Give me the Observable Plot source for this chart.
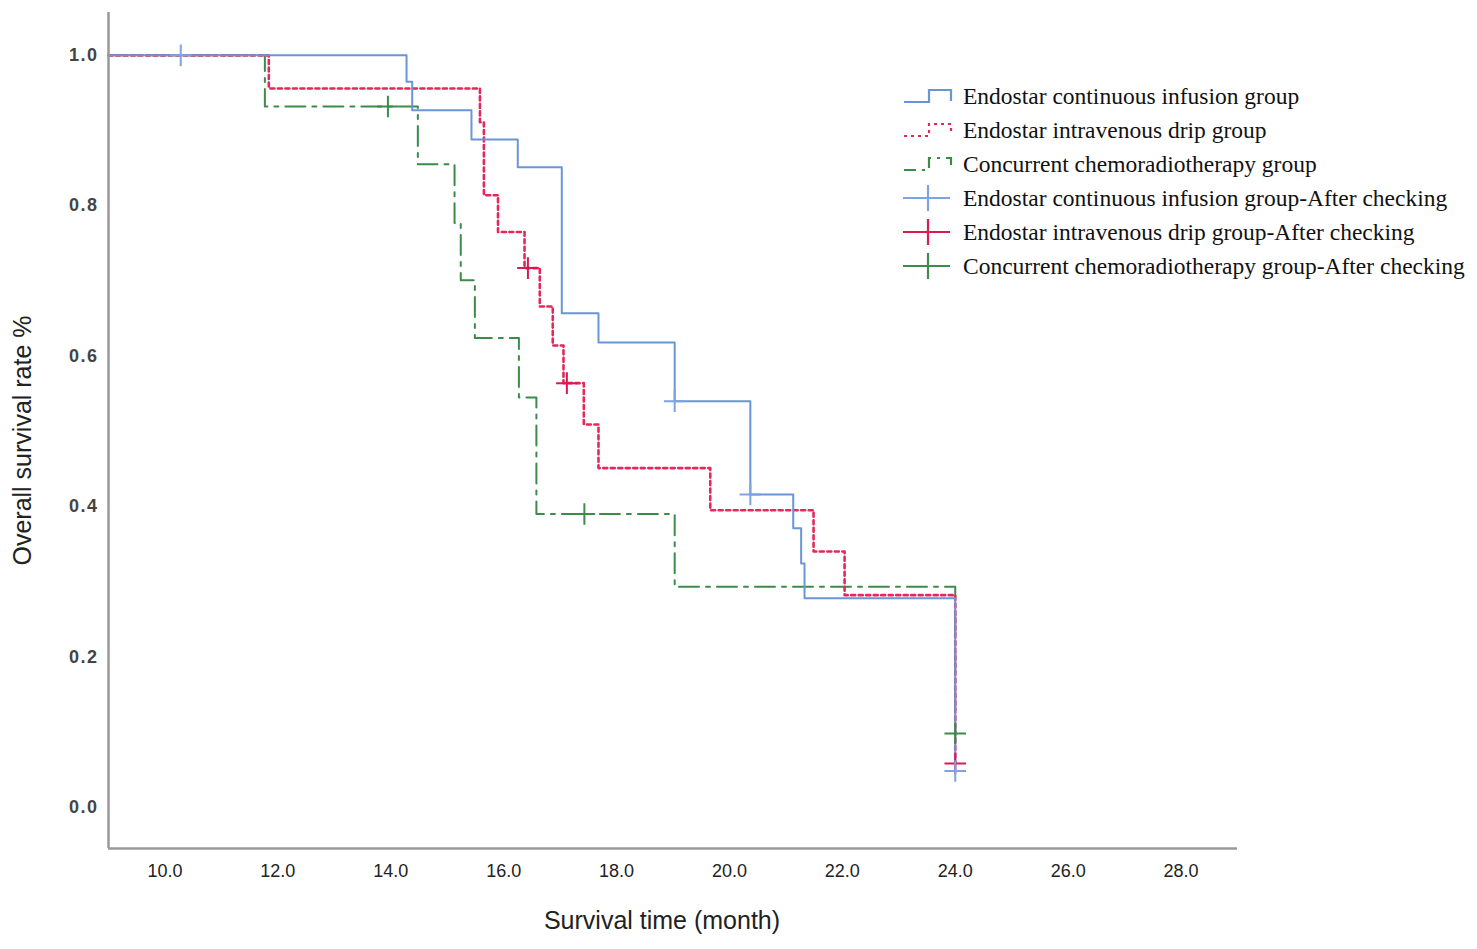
<!DOCTYPE html>
<html>
<head>
<meta charset="utf-8">
<script src="https://cdn.jsdelivr.net/npm/d3@7"></script>
<script src="https://cdn.jsdelivr.net/npm/@observablehq/plot@0.6"></script>
<style>
  html, body { margin: 0; padding: 0; background: #fff; }
  #wrap { position: relative; width: 1477px; height: 949px; }
  #chart svg { display: block; }
  #chart g[aria-label="y-axis tick label"] text { letter-spacing: 1.5px; }
  #legend { position: absolute; left: 900px; top: 79px; font-family: "Liberation Serif", "Times New Roman", serif; font-size: 23.5px; color: #111; }
  .row { display: flex; align-items: center; height: 34px; }
  .row svg { width: 58px; height: 34px; flex: none; }
  .row span { margin-left: 5px; white-space: nowrap; }
</style>
</head>
<body>
<div id="wrap">
  <div id="chart"></div>
  <div id="legend"></div>
</div>
<script>
// ---- Data ----
const groups = [
  "Endostar continuous infusion group",
  "Endostar intravenous drip group",
  "Concurrent chemoradiotherapy group"
];
const colors = ["#6a95d8", "#e3285a", "#3d8b49"];
const censorColors = ["#7fa3e0", "#d81b4f", "#3c8c4a"];
const dashes = ["none", "4,3.5", "20,7,4,7"];

const contTime = [9.0, 14.28, 14.38, 15.43, 16.25, 17.03, 17.68, 19.03, 20.37, 21.13, 21.27, 21.33, 24.0];
const contSurv = [1.0, 0.965, 0.927, 0.888, 0.851, 0.657, 0.618, 0.540, 0.416, 0.371, 0.324, 0.278, 0.048];
const dripTime = [9.0, 11.84, 15.58, 15.65, 15.90, 16.37, 16.64, 16.87, 17.06, 17.42, 17.68, 19.66, 21.49, 22.04, 24.0];
const dripSurv = [1.0, 0.956, 0.911, 0.814, 0.765, 0.717, 0.666, 0.614, 0.564, 0.509, 0.451, 0.395, 0.340, 0.282, 0.058];
const ccrtTime = [9.0, 11.77, 14.48, 15.13, 15.24, 15.49, 16.27, 16.58, 19.03, 24.0];
const ccrtSurv = [1.0, 0.932, 0.855, 0.777, 0.701, 0.624, 0.545, 0.390, 0.293, 0.098];

const contCensTime = [10.28, 19.03, 20.37, 24.0];
const contCensSurv = [1.0, 0.540, 0.416, 0.048];
const dripCensTime = [16.43, 17.12, 24.0];
const dripCensSurv = [0.717, 0.564, 0.058];
const ccrtCensTime = [13.95, 17.43, 24.0];
const ccrtCensSurv = [0.932, 0.390, 0.098];

const xTicks = [10, 12, 14, 16, 18, 20, 22, 24, 26, 28];
const yTicks = [0, 0.2, 0.4, 0.6, 0.8, 1.0];
const xTitle = "Survival time (month)";
const yTitle = "Overall survival rate %";

const series = [[contTime, contSurv], [dripTime, dripSurv], [ccrtTime, ccrtSurv]];
const censors = [[contCensTime, contCensSurv], [dripCensTime, dripCensSurv], [ccrtCensTime, ccrtCensSurv]];

const curves = series.map(([t, s], g) => t.map((v, i) => ({group: g, time: v, surv: s[i]})));
const censRows = censors.map(([t, s], g) => t.map((v, i) => ({group: g, time: v, surv: s[i]})));

const xDomain = [9, 29];
const yDomain = [-0.055, 1.057];

const order = [2, 1, 0];
const marks = [];
for (const g of order) {
  marks.push(Plot.line(curves[g], {
    x: "time", y: "surv", curve: "step-after",
    stroke: colors[g], strokeWidth: g === 1 ? 2.6 : 2,
    strokeDasharray: dashes[g] === "none" ? undefined : dashes[g]
  }));
}
for (const g of order) {
  marks.push(Plot.dot(censRows[g], {
    x: "time", y: "surv", symbol: "plus", r: 7,
    stroke: censorColors[g], strokeWidth: 2
  }));
}

const titleFont = "'Liberation Sans', Arial, sans-serif";

const chart = Plot.plot({
  width: 1477,
  height: 949,
  marginLeft: 108,
  marginTop: 12,
  marginRight: 240,
  marginBottom: 101,
  style: {background: "#fff"},
  x: {domain: xDomain, ticks: xTicks, tickFormat: d3.format(".1f")},
  y: {domain: yDomain, ticks: yTicks, tickFormat: d3.format(".1f")},
  marks: [
    Plot.axisX({ticks: xTicks, tickFormat: d3.format(".1f"), tickSize: 0, tickPadding: 16, label: null,
      fontFamily: "'Liberation Sans', Arial, sans-serif", fontSize: 18, fill: "#222"}),
    Plot.axisY({ticks: yTicks, tickFormat: d3.format(".1f"), tickSize: 0, tickPadding: 10, label: null,
      fontFamily: "'Liberation Sans', Arial, sans-serif", fontSize: 18, fontWeight: "bold", fill: "#444"}),
    ...marks,
    Plot.ruleX([xDomain[0]], {stroke: "#999", strokeWidth: 2.5}),
    Plot.ruleY([yDomain[0]], {stroke: "#999", strokeWidth: 2.5}),
    Plot.text([xTitle], {text: d => d, frameAnchor: "bottom", textAnchor: "middle", dx: -11, dy: 80,
      fontFamily: titleFont, fontSize: 25, fill: "#222"}),
    Plot.text([yTitle], {text: d => d, frameAnchor: "left", textAnchor: "middle", dx: -86, dy: 10, rotate: -90,
      fontFamily: titleFont, fontSize: 25, fill: "#222"})
  ]
});
document.getElementById("chart").appendChild(chart);

// ---- Legend (HTML overlay) ----
const legendLabels = [
  ...groups,
  ...groups.map(g => g + "-After checking")
];
const legend = document.getElementById("legend");
legendLabels.forEach((label, i) => {
  const row = document.createElement("div");
  row.className = "row";
  const g = i % 3;
  let sym;
  if (i < 3) {
    const dash = dashes[g] === "none" ? "" : `stroke-dasharray="${g === 1 ? "3,4" : "12,6,3,6"}"`;
    sym = `<svg viewBox="0 0 58 34"><polyline points="4,23 29,23 29,11 51,11 51,22" fill="none" stroke="${colors[g]}" stroke-width="2.2" ${dash}/></svg>`;
  } else {
    sym = `<svg viewBox="0 0 58 34"><line x1="3" y1="17" x2="50" y2="17" stroke="${censorColors[g]}" stroke-width="2.2"/><line x1="28" y1="4" x2="28" y2="30" stroke="${censorColors[g]}" stroke-width="2.2"/></svg>`;
  }
  row.innerHTML = sym + `<span>${label}</span>`;
  legend.appendChild(row);
});
</script>
</body>
</html>
